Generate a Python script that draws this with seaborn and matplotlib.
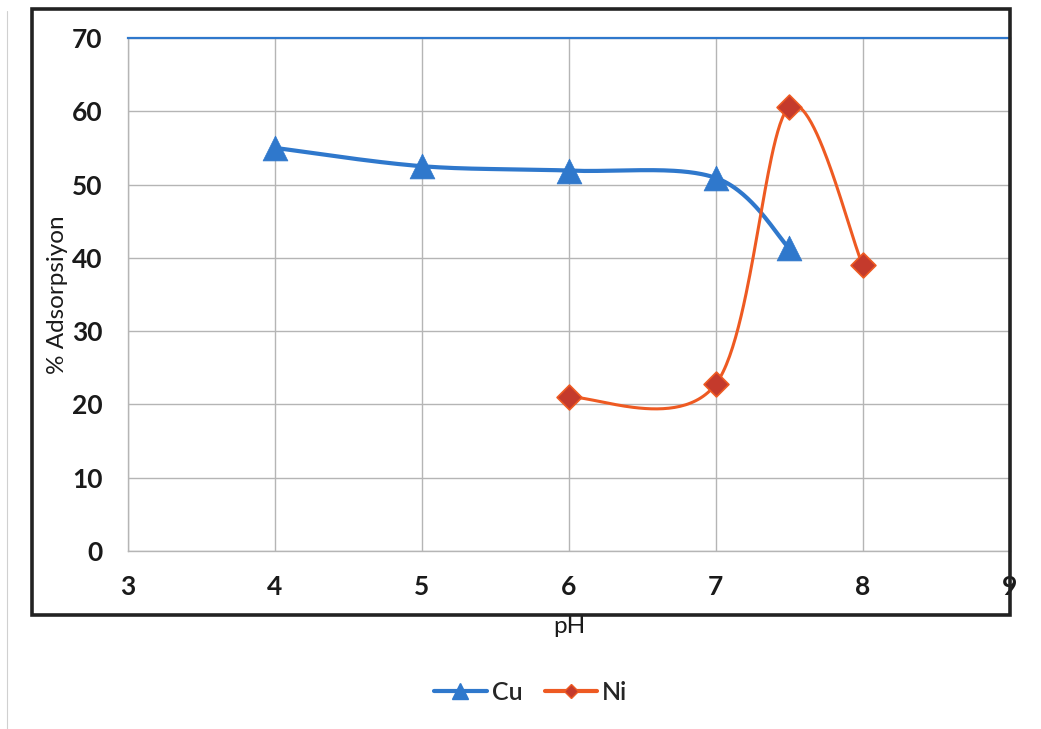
import numpy as np
import pandas as pd
import matplotlib
matplotlib.use("Agg")
import matplotlib.pyplot as plt
from matplotlib.lines import Line2D
from matplotlib.patches import Rectangle
import seaborn as sns

# Adsorption (%) versus pH for two metal ions
cu_ph = [4, 5, 6, 7, 7.5]
cu_ads = [55.0, 52.5, 51.9, 50.9, 41.3]
ni_ph = [6, 7, 7.5, 8]
ni_ads = [21.0, 22.8, 60.6, 39.0]

x_ticks = [3, 4, 5, 6, 7, 8, 9]
y_ticks = [0, 10, 20, 30, 40, 50, 60, 70]

CU_COLOR = "#2F78CC"
NI_LINE = "#EE5A22"
NI_FACE = "#C43A2C"
TEXT = "#1a1a1a"

sns.set_theme(style="white")
plt.rcParams["font.family"] = ["Lato", "DejaVu Sans"]


def smooth_curve(xs, ys, n=60):
    """Cubic Bezier smoothing through every point (Catmull-Rom style tangents)."""
    p = np.column_stack([xs, ys]).astype(float)
    m = len(p)
    out = []
    for i in range(m - 1):
        p0 = p[i - 1] if i > 0 else p[i]
        p1, p2 = p[i], p[i + 1]
        p3 = p[i + 2] if i + 2 < m else p[i + 1]
        c1 = p1 + (p2 - p0) / 6.0
        c2 = p2 - (p3 - p1) / 6.0
        t = np.linspace(0, 1, n)[:, None]
        seg = ((1 - t) ** 3) * p1 + 3 * ((1 - t) ** 2) * t * c1 \
            + 3 * (1 - t) * t ** 2 * c2 + t ** 3 * p2
        out.append(seg if i == 0 else seg[1:])
    curve = np.vstack(out)
    return curve[:, 0], curve[:, 1]


fig = plt.figure(figsize=(10.41, 7.29), dpi=100)
ax = fig.add_axes([0.123, 0.244, 0.847, 0.704])

# smoothed connecting lines
cx, cy = smooth_curve(cu_ph, cu_ads)
ax.plot(cx, cy, color=CU_COLOR, lw=3.0, zorder=3, solid_capstyle="round")
nx, ny = smooth_curve(ni_ph, ni_ads)
ax.plot(nx, ny, color=NI_LINE, lw=2.2, zorder=3, solid_capstyle="round")

# data markers
cu_df = pd.DataFrame({"pH": cu_ph, "ads": cu_ads})
ni_df = pd.DataFrame({"pH": ni_ph, "ads": ni_ads})
sns.scatterplot(data=cu_df, x="pH", y="ads", marker="^", s=320,
                color=CU_COLOR, edgecolor=CU_COLOR, linewidth=0.5,
                ax=ax, zorder=4)
sns.scatterplot(data=ni_df, x="pH", y="ads", marker="D", s=160,
                color=NI_FACE, edgecolor=NI_LINE, linewidth=1.2,
                ax=ax, zorder=4)

ax.set_xlim(3, 9)
ax.set_ylim(0, 70)
ax.set_xticks(x_ticks)
ax.set_yticks(y_ticks)
ax.set_xticklabels([str(v) for v in x_ticks], fontsize=19, fontweight="bold",
                   color=TEXT)
ax.set_yticklabels([str(v) for v in y_ticks], fontsize=19, fontweight="bold",
                   color=TEXT)
ax.tick_params(axis="x", length=0, pad=17)
ax.tick_params(axis="y", length=0, pad=18.5)

ax.grid(True, color="#B5B5B5", lw=1.0)
ax.set_axisbelow(True)
for side in ("left", "bottom", "right"):
    ax.spines[side].set_color("#B5B5B5")
    ax.spines[side].set_linewidth(1.0)
ax.spines["top"].set_color(CU_COLOR)
ax.spines["top"].set_linewidth(1.6)

ax.set_ylabel("% Adsorpsiyon", fontsize=17.5, color=TEXT)
ax.yaxis.set_label_coords(-0.068, 0.5)
ax.set_xlabel("pH", fontsize=17.5, color=TEXT)
ax.xaxis.set_label_coords(0.5, -0.126)

# chart frame
frame = Rectangle((0.031, 0.156), 0.939, 0.831, transform=fig.transFigure,
                  fill=False, edgecolor="#222222", lw=2.6, zorder=10)
fig.patches.append(frame)
fig.add_artist(Line2D([0.007, 0.007], [0.0, 0.985], transform=fig.transFigure,
                      color="#d0d0d0", lw=0.8))

handles = [
    Line2D([], [], color=CU_COLOR, lw=3.0, marker="^", markersize=11,
           markerfacecolor=CU_COLOR, markeredgecolor=CU_COLOR),
    Line2D([], [], color=NI_LINE, lw=3.0, marker="D", markersize=7,
           markerfacecolor=NI_FACE, markeredgecolor=NI_LINE),
]
fig.legend(handles, ["Cu", "Ni"], loc="center", bbox_to_anchor=(0.51, 0.05),
           ncol=2, frameon=False, handlelength=2.1, handletextpad=0.2,
           columnspacing=0.9, prop={"size": 18, "weight": "semibold"})

fig.savefig("out.png", dpi=100, facecolor="white")
